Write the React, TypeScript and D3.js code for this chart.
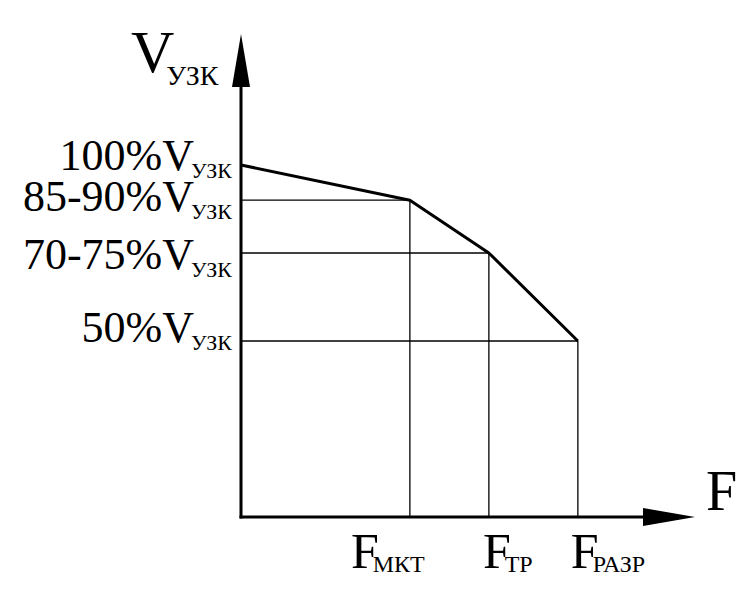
import React from "react";
import * as d3 from "d3";

const fSubs = ["", "МКТ", "ТР", "РАЗР"];
const fValues = [0, 37.2, 54.6, 74.2];
const vValues = [100, 90, 75, 50];
const vLabels = ["100%", "85-90%", "70-75%", "50%"];
const vSub = "УЗК";
const yTitle = "V";
const xTitle = "F";

const W = 748;
const H = 603;
const labelOffsets = [5, 11, 16, 1];
const fLabelShift = [59, 6, 7];
const FONT = "'Liberation Serif', 'Times New Roman', serif";

export default function App() {
  const x = d3.scaleLinear().domain([0, 100]).range([241, 695]);
  const y = d3.scaleLinear().domain([0, 100]).range([517, 165]);
  const pts: [number, number][] = fValues.map((f, i) => [x(f), y(vValues[i])]);
  const line = d3.line<[number, number]>().x((d) => d[0]).y((d) => d[1]);
  const x0 = x(0);
  const y0 = y(0);

  return (
    <svg
      width={W}
      height={H}
      style={{ position: "absolute", left: 0, top: 0, background: "#fff" }}
      fontFamily={FONT}
    >
      <rect width={W} height={H} fill="#fff" />
      {/* grid lines */}
      {pts.slice(1).map((p, i) => (
        <g key={i} stroke="#000" strokeWidth={1.3}>
          <line x1={x0} y1={p[1]} x2={p[0]} y2={p[1]} />
          <line x1={p[0]} y1={p[1]} x2={p[0]} y2={y0} />
        </g>
      ))}
      {/* axes */}
      <line x1={x0} y1={y0 + 1.5} x2={x0} y2={60} stroke="#000" strokeWidth={3} />
      <line x1={x0 - 1.5} y1={y0} x2={670} y2={y0} stroke="#000" strokeWidth={3} />
      <path d={`M${x0},34 L${x0 + 9},87 L${x0 - 9},87 Z`} fill="#000" />
      <path d={`M695,${y0} L643,${y0 - 9} L643,${y0 + 9} Z`} fill="#000" />
      {/* data line */}
      <path d={line(pts) || ""} fill="none" stroke="#000" strokeWidth={3} strokeLinejoin="round" />
      {/* y tick labels */}
      {vLabels.map((lab, i) => (
        <text key={lab} x={232} y={y(vValues[i]) + labelOffsets[i]} textAnchor="end" fontSize={44}>
          <tspan>{lab}V</tspan>
          <tspan dx={-3} dy={8} fontSize={22}>{vSub}</tspan>
        </text>
      ))}
      {/* x tick labels */}
      {fValues.slice(1).map((f, i) => (
        <text key={i} x={x(f) - fLabelShift[i]} y={568} fontSize={50}>
          <tspan>F</tspan>
          <tspan dx={-6} dy={4} fontSize={24}>{fSubs[i + 1]}</tspan>
        </text>
      ))}
      {/* axis titles */}
      <text x={131} y={72} fontSize={60}>
        <tspan>{yTitle}</tspan>
        <tspan dx={-8} dy={13} fontSize={28}>{vSub}</tspan>
      </text>
      <text x={706} y={510} fontSize={56}>{xTitle}</text>
    </svg>
  );
}
